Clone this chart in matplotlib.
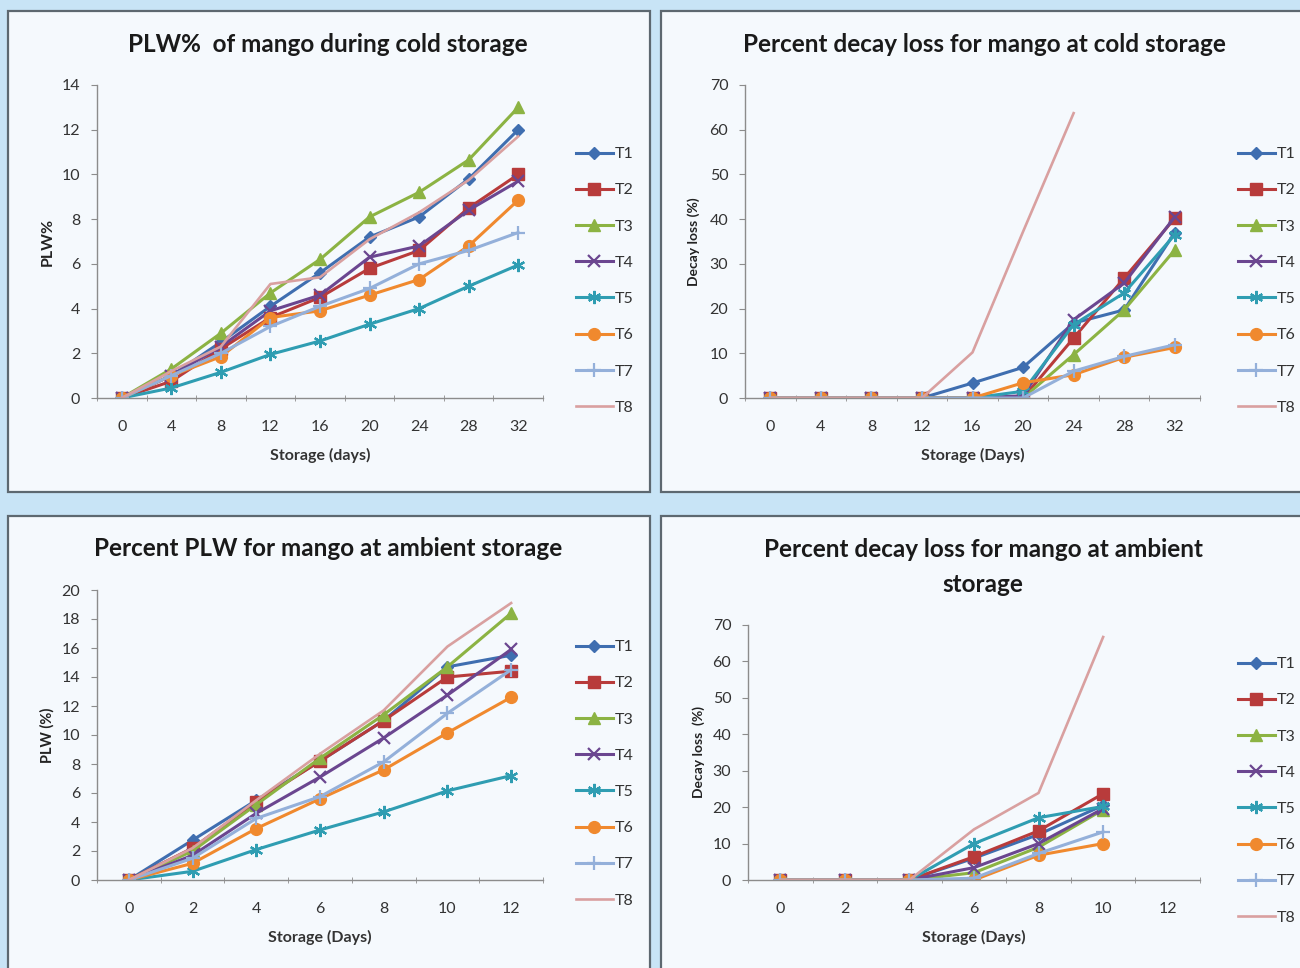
import numpy as np
import matplotlib.pyplot as plt
from matplotlib.patches import Rectangle
from matplotlib.ticker import FixedLocator

plt.rcParams['font.family'] = ['Lato', 'DejaVu Sans']

# --- data ---
treatments = ['T1', 'T2', 'T3', 'T4', 'T5', 'T6', 'T7', 'T8']

cold_days = [0, 4, 8, 12, 16, 20, 24, 28, 32]
ambient_days = [0, 2, 4, 6, 8, 10, 12]
ambient_decay_days = [0, 2, 4, 6, 8, 10]

plw_cold = [
    [0, 1.0, 2.5, 4.1, 5.6, 7.2, 8.1, 9.8, 12.0],
    [0, 0.75, 2.2, 3.6, 4.5, 5.8, 6.6, 8.5, 10.0],
    [0, 1.3, 2.9, 4.7, 6.2, 8.1, 9.2, 10.65, 13.0],
    [0, 1.0, 2.3, 3.9, 4.6, 6.3, 6.8, 8.4, 9.7],
    [0, 0.45, 1.15, 1.95, 2.55, 3.3, 4.0, 5.0, 5.95],
    [0, 1.0, 1.85, 3.6, 3.9, 4.6, 5.3, 6.8, 8.85],
    [0, 1.0, 2.0, 3.2, 4.1, 4.9, 6.0, 6.6, 7.4],
    [0, 1.2, 2.3, 5.1, 5.4, 7.1, 8.3, 9.75, 11.7],
]

decay_cold = [
    [0, 0, 0, 0, 3.35, 6.85, 16.75, 19.7, 37.0],
    [0, 0, 0, 0, 0, 0, 13.4, 26.8, 40.2],
    [0, 0, 0, 0, 0, 0, 9.7, 19.7, 33.1],
    [0, 0, 0, 0, 0, 0.5, 17.5, 25.7, 40.5],
    [0, 0, 0, 0, 0, 1.5, 16.4, 23.5, 36.5],
    [0, 0, 0, 0, 0, 3.4, 5.2, 9.1, 11.3],
    [0, 0, 0, 0, 0, 0, 6.0, 9.3, 11.9],
    [0, 0, 0, 0, 10.2, 37.2, 63.7, np.nan, np.nan],
]

plw_ambient = [
    [0, 2.75, 5.5, 8.2, 11.0, 14.7, 15.5],
    [0, 2.2, 5.4, 8.2, 11.0, 14.0, 14.4],
    [0, 2.0, 5.2, 8.4, 11.4, 14.7, 18.4],
    [0, 1.7, 4.6, 7.1, 9.8, 12.75, 15.9],
    [0, 0.6, 2.1, 3.45, 4.7, 6.15, 7.2],
    [0, 1.15, 3.55, 5.6, 7.6, 10.15, 12.6],
    [0, 1.5, 4.25, 5.75, 8.15, 11.5, 14.5],
    [0, 2.2, 5.5, 8.7, 11.7, 16.1, 19.1],
]

decay_ambient = [
    [0, 0, 0, 6.0, 12.5, 20.5],
    [0, 0, 0, 6.4, 13.5, 23.7],
    [0, 0, 0, 2.0, 9.0, 19.3],
    [0, 0, 0, 3.4, 10.0, 19.6],
    [0, 0, 0, 10.0, 17.1, 20.2],
    [0, 0, 0, 0.0, 6.8, 10.0],
    [0, 0, 0, 0.5, 7.3, 13.2],
    [0, 0, 0, 13.9, 23.9, 66.7],
]

# --- styles ---
colors = ['#3f6eb0', '#b83b3b', '#8cb343', '#6b4690', '#2f9db2', '#f0892e', '#94b0da', '#d9a0a0']
markers = ['D', 's', '^', 'x', (6, 2, 0), 'o', '+', None]
msizes = [6.5, 8, 8.5, 8.5, 9.5, 8.5, 9.5, 0]

W, H = 1300, 968
fig = plt.figure(figsize=(W / 100, H / 100), dpi=100, facecolor='#c8e4f6')


def px_rect(x0, y0, x1, y1):
    # pixel box (top-left origin) -> figure fraction [left, bottom, width, height]
    return [x0 / W, 1 - y1 / H, (x1 - x0) / W, (y1 - y0) / H]


# panel boxes
for box in [(8, 11, 650, 492), (661, 11, 1312, 492), (8, 516, 650, 980), (661, 516, 1312, 980)]:
    l, b, w, h = px_rect(*box)
    fig.add_artist(Rectangle((l, b), w, h, transform=fig.transFigure,
                             facecolor='#f5f9fd', edgecolor='#5d6870', lw=1.6, zorder=0))


def draw_panel(axbox, days, series, xmax_tick, step, ylim, ystep, title, title_xy,
               xlabel, ylabel, ylabel_size, legend_xy):
    ax = fig.add_axes(px_rect(*axbox))
    ax.set_facecolor('none')
    for i, vals in enumerate(series):
        ax.plot(days, vals, color=colors[i], lw=2.2 if i < 7 else 1.9,
                marker=markers[i], markersize=msizes[i], mew=1.6 if i in (3, 4, 6) else 1.0,
                label=treatments[i])
    ticks = np.arange(0, xmax_tick + 1, step)
    ax.set_xlim(-step / 2, xmax_tick + step / 2)
    ax.set_xticks(ticks)
    ax.xaxis.set_minor_locator(FixedLocator(np.append(ticks - step / 2, xmax_tick + step / 2)))
    ax.tick_params(axis='x', which='major', length=0, pad=16, labelsize=11.5, colors='#333333')
    ax.tick_params(axis='x', which='minor', length=5, direction='inout', color='#8c8c8c')
    ax.set_ylim(*ylim)
    ax.set_yticks(np.arange(ylim[0], ylim[1] + 0.1, ystep))
    ax.tick_params(axis='y', length=4, direction='out', color='#8c8c8c', labelsize=11.5,
                   labelcolor='#333333', pad=8)
    for s in ['top', 'right']:
        ax.spines[s].set_visible(False)
    for s in ['left', 'bottom']:
        ax.spines[s].set_color('#8c8c8c')
        ax.spines[s].set_linewidth(1.0)
    ax.set_xlabel(xlabel, fontsize=11.5, fontweight='bold', color='#333333', labelpad=10)
    ax.set_ylabel(ylabel, fontsize=ylabel_size, fontweight='bold', color='#222222')
    tx, ty = title_xy
    fig.text(tx / W, 1 - ty / H, title, ha='center', va='center', fontsize=17.5,
             fontweight='bold', color='#1a1a1a', linespacing=1.6)
    lx, ly = legend_xy
    ax.legend(loc='upper left', bbox_to_anchor=(lx / W, 1 - ly / H), bbox_transform=fig.transFigure,
              frameon=False, fontsize=11.5, handlelength=2.3, handletextpad=0.15,
              labelspacing=1.38, borderpad=0, labelcolor='#333333')
    return ax


ax1 = draw_panel((97, 85, 543, 398), cold_days, plw_cold, 32, 4, (0, 14), 2,
                 'PLW%  of mango during cold storage', (328, 44),
                 'Storage (days)', 'PLW%', 11.5, (568, 139))
ax1.yaxis.set_label_coords(-0.095, 0.5)

ax2 = draw_panel((745, 85, 1200, 398), cold_days, decay_cold, 32, 4, (0, 70), 10,
                 'Percent decay loss for mango at cold storage', (984, 44),
                 'Storage (Days)', 'Decay loss (%)', 10, (1230, 139))
ax2.yaxis.set_label_coords(-0.1, 0.5)

ax3 = draw_panel((97, 590, 543, 880), ambient_days, plw_ambient, 12, 2, (0, 20), 2,
                 'Percent PLW for mango at ambient storage', (328, 549),
                 'Storage (Days)', 'PLW (%)', 10.5, (568, 632))
ax3.yaxis.set_label_coords(-0.095, 0.5)

ax4 = draw_panel((748, 625, 1200, 880), ambient_decay_days, decay_ambient, 12, 2, (0, 70), 10,
                 'Percent decay loss for mango at ambient\nstorage', (983, 567),
                 'Storage (Days)', 'Decay loss  (%)', 10, (1230, 649))
ax4.yaxis.set_label_coords(-0.095, 0.5)

fig.savefig('out.png', dpi=100, facecolor=fig.get_facecolor())
